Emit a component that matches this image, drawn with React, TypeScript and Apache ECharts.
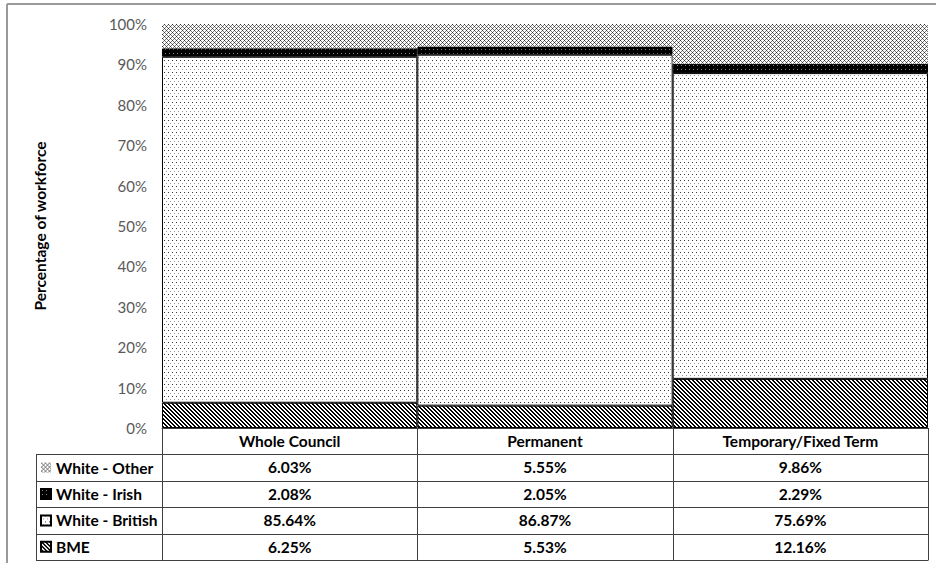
import React, { useEffect, useRef } from 'react';
import * as echarts from 'echarts';

const categories = ['Whole Council', 'Permanent', 'Temporary/Fixed Term'];
const seriesNames = ['BME', 'White - British', 'White - Irish', 'White - Other'];
const bme = [6.25, 5.53, 12.16];
const whiteBritish = [85.64, 86.87, 75.69];
const whiteIrish = [2.08, 2.05, 2.29];
const whiteOther = [6.03, 5.55, 9.86];
const tableRowOrder = ['White - Other', 'White - Irish', 'White - British', 'BME'];
const yTickMin = 0;
const yTickMax = 100;
const yTickStep = 10;

const W = 936;
const H = 563;
const GRID = { left: 162, right: 8, top: 24, bottom: 135 };
const ROW_H = 26.4;
const TABLE_LEFT = 36;
const FONT = 'Lato, "Open Sans", sans-serif';
const BOLD_SIZE = 15.5;
const REG_SIZE = 15;

type Px = [number, number, string];
function makeTile(w: number, h: number, bg: string, pix: Px[]) {
  const c = document.createElement('canvas');
  c.width = w;
  c.height = h;
  const ctx = c.getContext('2d')!;
  ctx.fillStyle = bg;
  ctx.fillRect(0, 0, w, h);
  pix.forEach(([x, y, col]) => {
    ctx.fillStyle = col;
    ctx.fillRect(x, y, 1, 1);
  });
  return { image: c as any, repeat: 'repeat', imageWidth: w, imageHeight: h } as any;
}

function patterns() {
  const bmePix: Px[] = [];
  for (let y = 0; y < 8; y++)
    for (let x = 0; x < 8; x++) if ((((x - y) % 4) + 4) % 4 < 2) bmePix.push([x, y, '#000']);
  const otherPix: Px[] = [];
  for (let y = 0; y < 4; y++)
    for (let x = 0; x < 4; x++) {
      const a = (x + y) % 4 === 0;
      const b = (((x - y) % 4) + 4) % 4 === 0;
      if (a && b) otherPix.push([x, y, '#333']);
      else if (a || b) otherPix.push([x, y, '#777']);
    }
  return {
    BME: makeTile(8, 8, '#fff', bmePix),
    'White - British': makeTile(4, 6, '#fff', [
      [0, 0, '#3a3a3a'],
      [2, 3, '#9a9a9a'],
    ]),
    'White - Irish': makeTile(4, 4, '#000', [[1, 1, '#8a8a8a']]),
    'White - Other': makeTile(4, 4, '#fff', otherPix),
  } as Record<string, any>;
}

export default function App() {
  const ref = useRef<HTMLDivElement>(null);
  useEffect(() => {
    if (!ref.current) return;
    const chart = echarts.init(ref.current, undefined, { renderer: 'svg' });
    const pats = patterns();
    const values: Record<string, number[]> = {
      BME: bme,
      'White - British': whiteBritish,
      'White - Irish': whiteIrish,
      'White - Other': whiteOther,
    };
    const plotW = W - GRID.left - GRID.right;
    const catW = plotW / categories.length;
    const baseY = H - GRID.bottom;
    const nRows = tableRowOrder.length;
    const tableBottom = baseY + ROW_H * (nRows + 1);
    const lineStyle = { stroke: '#404040', lineWidth: 1 };
    const graphics: any[] = [];
    for (let k = 1; k <= nRows + 1; k++) {
      const y = Math.round(baseY + k * ROW_H) + 0.5;
      graphics.push({ type: 'line', shape: { x1: TABLE_LEFT, y1: y, x2: W - GRID.right, y2: y }, style: lineStyle, silent: true });
    }
    graphics.push({
      type: 'line',
      shape: { x1: TABLE_LEFT + 0.5, y1: Math.round(baseY + ROW_H) + 0.5, x2: TABLE_LEFT + 0.5, y2: Math.round(tableBottom) + 0.5 },
      style: lineStyle,
      silent: true,
    });
    for (let i = 0; i <= categories.length; i++) {
      const x = Math.round(GRID.left + i * catW) + 0.5;
      graphics.push({ type: 'line', shape: { x1: x, y1: baseY, x2: x, y2: Math.round(tableBottom) + 0.5 }, style: lineStyle, silent: true });
    }
    // outer chart border (cut off by the page)
    graphics.push({ type: 'line', shape: { x1: 7, y1: 4, x2: W + 5, y2: 4 }, style: { stroke: '#9a9a9a', lineWidth: 2 }, silent: true });
    graphics.push({ type: 'line', shape: { x1: 7, y1: 4, x2: 7, y2: H + 5 }, style: { stroke: '#9a9a9a', lineWidth: 2 }, silent: true });

    const boldLabel = { interval: 0, margin: 5, fontFamily: FONT, fontSize: BOLD_SIZE, fontWeight: 'bold', color: '#000', lineHeight: 16 };
    const extraAxes = tableRowOrder.map((name, k) => ({
      type: 'category',
      gridIndex: 0,
      position: 'bottom',
      offset: (k + 1) * ROW_H,
      data: values[name].map((v) => v.toFixed(2) + '%'),
      axisLine: { show: false },
      axisTick: { show: false },
      axisLabel: boldLabel,
    }));

    chart.setOption({
      animation: false,
      backgroundColor: '#fff',
      grid: { left: GRID.left, right: GRID.right, top: GRID.top, bottom: GRID.bottom },
      legend: {
        orient: 'vertical',
        left: 40,
        top: baseY + ROW_H,
        padding: 0,
        itemGap: 0,
        itemWidth: 10,
        itemHeight: 10,
        icon: 'rect',
        selectedMode: false,
        data: tableRowOrder,
        textStyle: { fontFamily: FONT, fontSize: BOLD_SIZE, fontWeight: 'bold', color: '#000', lineHeight: ROW_H },
      },
      xAxis: [
        {
          type: 'category',
          data: categories,
          axisLine: { show: true, lineStyle: { color: '#404040', width: 1 } },
          axisTick: { show: false },
          axisLabel: boldLabel,
        },
        ...extraAxes,
      ],
      yAxis: {
        type: 'value',
        min: yTickMin,
        max: yTickMax,
        interval: yTickStep,
        name: 'Percentage of workforce',
        nameLocation: 'middle',
        nameGap: 114,
        nameTextStyle: { fontFamily: FONT, fontSize: BOLD_SIZE, fontWeight: 'bold', color: '#000' },
        axisLine: { show: false },
        axisTick: { show: false },
        splitLine: { show: false },
        axisLabel: { formatter: '{value}%', margin: 15, fontFamily: FONT, fontSize: REG_SIZE, color: '#595959' },
      },
      series: seriesNames.map((name) => ({
        name,
        type: 'bar',
        stack: 'total',
        barCategoryGap: '0%',
        data: values[name],
        itemStyle: {
          color: pats[name],
          borderColor: '#000',
          borderWidth: name === 'White - Other' ? 0 : 1,
        },
        emphasis: { disabled: true },
      })),
      graphic: graphics,
    });
    return () => chart.dispose();
  }, []);
  return <div ref={ref} style={{ position: 'absolute', left: 0, top: 0, width: W, height: H }} />;
}
